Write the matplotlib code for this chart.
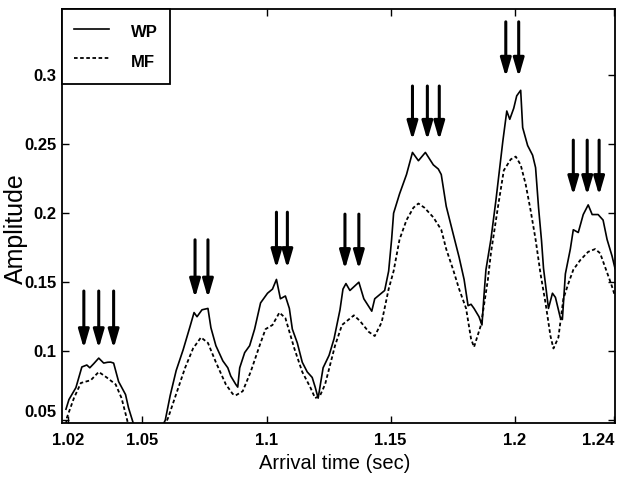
import matplotlib
matplotlib.use("Agg")
import matplotlib.pyplot as plt
from matplotlib import font_manager

names = {f.name for f in font_manager.fontManager.ttflist}
NARROW = 'Liberation Sans Narrow' if 'Liberation Sans Narrow' in names else 'Liberation Sans'
plt.rcParams['font.family'] = [NARROW, 'DejaVu Sans']

# ---- data ----
wp_t = [1.0192, 1.0204, 1.0232, 1.0256, 1.0276, 1.0288, 1.0304, 1.0324, 1.0344, 1.036, 1.0372,
        1.0384, 1.0404, 1.0432, 1.0444, 1.0456, 1.0468, 1.0484, 1.0524, 1.0564,
        1.0592, 1.0612, 1.0636, 1.0664, 1.0692, 1.0708, 1.072, 1.074, 1.0764, 1.0776, 1.0796,
        1.0824, 1.0844, 1.0856, 1.0876, 1.0884, 1.0892, 1.0912, 1.0932, 1.0952, 1.0976, 1.1004,
        1.1024, 1.104, 1.1056, 1.1076, 1.1092, 1.1104, 1.1124, 1.1144, 1.1164, 1.1184, 1.1196,
        1.1208, 1.1228, 1.1252, 1.1272, 1.1296, 1.1308, 1.132, 1.1336, 1.1372, 1.1392, 1.1424,
        1.1436, 1.1456, 1.1476, 1.1492, 1.1504, 1.1512, 1.1536, 1.1564, 1.1588, 1.1612, 1.164,
        1.1672, 1.1692, 1.1704, 1.1724, 1.1752, 1.1776, 1.1796, 1.1812, 1.1824, 1.1836, 1.1856,
        1.1868, 1.1876, 1.1884, 1.1904, 1.1924, 1.1952, 1.1968, 1.198, 1.1996, 1.2008, 1.2024,
        1.2032, 1.2052, 1.2072, 1.2084, 1.2096, 1.2108, 1.2116, 1.2136, 1.2152, 1.2164, 1.2184,
        1.2192, 1.2204, 1.2224, 1.2236, 1.2256, 1.2276, 1.2296, 1.2312, 1.2336, 1.2356, 1.2372,
        1.2392, 1.2404]
wp_a = [0.058, 0.065, 0.0736, 0.0886, 0.090, 0.088, 0.091, 0.095, 0.0914, 0.092, 0.0921,
        0.0914, 0.078, 0.0686, 0.059, 0.052, 0.045, 0.040, 0.030, 0.040,
        0.050, 0.068, 0.086, 0.101, 0.118, 0.128, 0.125, 0.130, 0.131, 0.117, 0.104,
        0.093, 0.088, 0.082, 0.076, 0.074, 0.088, 0.099, 0.104, 0.116, 0.135, 0.142,
        0.145, 0.152, 0.138, 0.140, 0.131, 0.116, 0.106, 0.092, 0.085, 0.081, 0.074,
        0.066, 0.088, 0.097, 0.109, 0.130, 0.145, 0.149, 0.144, 0.150, 0.138, 0.129,
        0.138, 0.141, 0.144, 0.158, 0.181, 0.200, 0.214, 0.228, 0.244, 0.238, 0.244,
        0.235, 0.232, 0.228, 0.205, 0.185, 0.168, 0.152, 0.133, 0.134, 0.131, 0.125,
        0.119, 0.140, 0.159, 0.181, 0.209, 0.252, 0.274, 0.268, 0.276, 0.285, 0.289,
        0.262, 0.249, 0.242, 0.233, 0.204, 0.180, 0.160, 0.131, 0.142, 0.139, 0.124,
        0.123, 0.156, 0.174, 0.188, 0.186, 0.199, 0.206, 0.199, 0.199, 0.195, 0.181,
        0.169, 0.160]

mf_t = [1.0192, 1.0196, 1.0224, 1.0252, 1.0292, 1.0324, 1.0356, 1.0392, 1.0416, 1.0436, 1.0452,
        1.0504, 1.0564, 1.0604, 1.0636, 1.0672, 1.0704, 1.0736, 1.0764, 1.0796, 1.0836, 1.0864,
        1.0876, 1.0904, 1.0936, 1.0972, 1.0996, 1.1024, 1.1052, 1.1076, 1.1112, 1.1144, 1.1176,
        1.1196, 1.1216, 1.1236, 1.1276, 1.1304, 1.1352, 1.1376, 1.1412, 1.1436, 1.1464, 1.1492,
        1.1512, 1.1536, 1.1564, 1.1592, 1.1612, 1.1636, 1.1672, 1.1704, 1.1724, 1.1752, 1.1776,
        1.1804, 1.1824, 1.1836, 1.1864, 1.1892, 1.1904, 1.1932, 1.1956, 1.1984, 1.2004, 1.2024,
        1.2044, 1.2064, 1.2084, 1.2104, 1.2124, 1.2144, 1.2156, 1.2176, 1.2196, 1.2216, 1.2236,
        1.2264, 1.2296, 1.2324, 1.2344, 1.2364, 1.2388, 1.2404]
mf_a = [0.047, 0.052, 0.066, 0.077, 0.079, 0.085, 0.081, 0.076, 0.066, 0.052, 0.040,
        0.030, 0.035, 0.052, 0.069, 0.088, 0.102, 0.110, 0.106, 0.092, 0.076, 0.069,
        0.068, 0.071, 0.085, 0.104, 0.116, 0.119, 0.128, 0.124, 0.102, 0.085, 0.074,
        0.066, 0.068, 0.076, 0.104, 0.119, 0.126, 0.122, 0.114, 0.111, 0.121, 0.145,
        0.158, 0.181, 0.195, 0.204, 0.207, 0.204, 0.197, 0.188, 0.174, 0.159, 0.145,
        0.131, 0.109, 0.103, 0.119, 0.152, 0.171, 0.204, 0.231, 0.239, 0.241, 0.235,
        0.221, 0.202, 0.181, 0.156, 0.135, 0.111, 0.102, 0.110, 0.138, 0.149, 0.159,
        0.166, 0.172, 0.174, 0.171, 0.161, 0.149, 0.140]

arrow_x = [1.0264, 1.0324, 1.0384, 1.0712, 1.0764, 1.104, 1.1084, 1.1316, 1.1372,
           1.1588, 1.1648, 1.1696, 1.1964, 1.2016, 1.2236, 1.2292, 1.234]
arrow_top = [0.1436, 0.1436, 0.1436, 0.1807, 0.1807, 0.2007, 0.2007, 0.1993, 0.1993,
             0.2921, 0.2921, 0.2921, 0.3386, 0.3386, 0.2529, 0.2529, 0.2529]
arrow_tip = [0.102, 0.102, 0.102, 0.1386, 0.1386, 0.160, 0.160, 0.1593, 0.1593,
             0.2529, 0.2529, 0.2529, 0.2986, 0.2986, 0.2129, 0.2129, 0.2129]

xticks = [1.02, 1.05, 1.1, 1.15, 1.2, 1.24]
xticklabels = ['1.02', '1.05', '1.1', '1.15', '1.2', '1.24']
yticks = [0.05, 0.1, 0.15, 0.2, 0.25, 0.3]
yticklabels = ['0.05', '0.1', '0.15', '0.2', '0.25', '0.3']

# ---- plot ----
fig = plt.figure(figsize=(6.23, 4.82), dpi=100)
ax = fig.add_axes([62 / 623, 1 - 423 / 482, (615 - 62) / 623, (423 - 9) / 482])

ax.plot(wp_t, wp_a, color='black', lw=1.2, label='WP')
ax.plot(mf_t, mf_a, color='black', lw=1.3, linestyle=(0, (2.0, 1.4)), label='MF')

for x, y0, y1 in zip(arrow_x, arrow_top, arrow_tip):
    ax.annotate('', xy=(x, y1), xytext=(x, y0),
                arrowprops=dict(arrowstyle='-|>,head_length=1.1,head_width=0.32',
                                mutation_scale=10, lw=2.2, color='black',
                                shrinkA=0, shrinkB=0))

ax.set_xlim(1.0176, 1.2404)
ax.set_ylim(0.048, 0.3479)
ax.set_xticks(xticks)
ax.set_xticklabels(xticklabels)
ax.set_yticks(yticks)
ax.set_yticklabels(yticklabels)
ax.tick_params(direction='in', length=5, width=1, top=True, right=True, labelsize=12)
ax.tick_params(axis='x', pad=7)
ax.tick_params(axis='y', pad=4)
for lab in ax.get_xticklabels() + ax.get_yticklabels():
    lab.set_fontweight('bold')
ax.get_xticklabels()[-1].set_horizontalalignment('right')
ax.get_yticklabels()[0].set_verticalalignment('bottom')
for s in ax.spines.values():
    s.set_linewidth(1.3)

ax.set_xlabel('Arrival time (sec)', fontsize=14.5)
ax.xaxis.set_label_coords(0.494, -0.075)
ax.set_ylabel('Amplitude', fontsize=18)
ax.yaxis.set_label_coords(-0.062, 0.47)

leg = ax.legend(loc='upper left', bbox_to_anchor=(0, 1), borderaxespad=0,
                fancybox=False, edgecolor='black', framealpha=1,
                prop={'weight': 'bold', 'size': 12},
                handlelength=2.15, handletextpad=1.3, labelspacing=0.5,
                handleheight=1.6, borderpad=0.7)
leg.get_frame().set_linewidth(1.3)

fig.savefig('out.png', dpi=100)
